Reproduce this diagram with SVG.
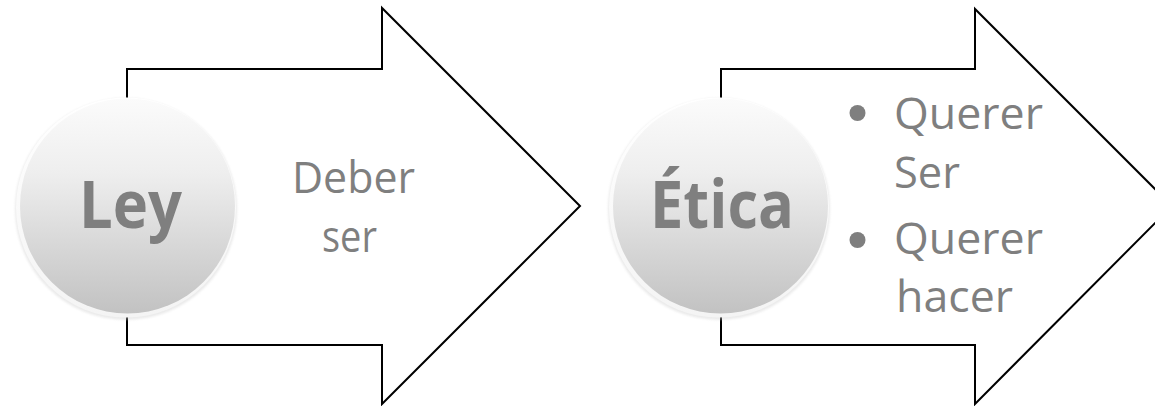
<svg xmlns="http://www.w3.org/2000/svg" width="1155" height="406" viewBox="0 0 1155 406">
  <defs>
    <linearGradient id="ballFill" x1="0" y1="0" x2="0" y2="1">
      <stop offset="0" stop-color="#fbfbfb"/>
      <stop offset="0.35" stop-color="#eeeeee"/>
      <stop offset="1" stop-color="#c2c2c2"/>
    </linearGradient>
    <linearGradient id="rimFill" x1="0" y1="0" x2="0" y2="1">
      <stop offset="0" stop-color="#ffffff"/>
      <stop offset="1" stop-color="#f4f4f4"/>
    </linearGradient>
    <filter id="soft" x="-10%" y="-10%" width="120%" height="120%">
      <feGaussianBlur stdDeviation="1.2"/>
    </filter>
  </defs>
  <style>
    .arrow { fill: #ffffff; stroke: #000000; stroke-width: 2; stroke-linejoin: miter; }
    .label { font-family: "Open Sans", "Noto Sans", "Liberation Sans", sans-serif; fill: #7f7f7f; }
    .title { font-weight: bold; font-size: 67px; }
    .body { font-size: 43px; }
    .bullet { fill: #7f7f7f; }
    .shadow { fill: #cccccc; opacity: 0.4; }
    .rim { fill: url(#rimFill); }
    .ball { fill: url(#ballFill); }
  </style>

  <rect width="1155" height="406" fill="#ffffff"/>

  <g id="arrow-ley">
    <path class="arrow" d="M127,69 H382 V8 L580,206 L382,404 V345 H127 Z"/>
    <text class="label body" x="292" y="193" textLength="123" lengthAdjust="spacingAndGlyphs">Deber</text>
    <text class="label body" x="322" y="252" textLength="55" lengthAdjust="spacingAndGlyphs">ser</text>
  </g>

  <g id="arrow-etica">
    <path class="arrow" d="M721,69 H975 V9 L1172,206 L975,404 V345 H721 Z"/>
    <circle class="bullet" cx="857.5" cy="113" r="8"/>
    <text class="label body" x="894" y="129" textLength="149" lengthAdjust="spacingAndGlyphs">Querer</text>
    <text class="label body" x="894" y="188" textLength="66" lengthAdjust="spacingAndGlyphs">Ser</text>
    <circle class="bullet" cx="857.5" cy="240" r="8"/>
    <text class="label body" x="894" y="254" textLength="149" lengthAdjust="spacingAndGlyphs">Querer</text>
    <text class="label body" x="896" y="312" textLength="117" lengthAdjust="spacingAndGlyphs">hacer</text>
  </g>

  <g id="node-ley">
    <circle class="shadow" cx="126" cy="209" r="111" filter="url(#soft)"/>
    <circle class="rim" cx="126" cy="207.5" r="110"/>
    <circle class="ball" cx="127.5" cy="206" r="107.5"/>
    <text class="label title" x="79" y="228" textLength="103" lengthAdjust="spacingAndGlyphs">Ley</text>
  </g>

  <g id="node-etica">
    <circle class="shadow" cx="719" cy="209" r="111" filter="url(#soft)"/>
    <circle class="rim" cx="719" cy="207.5" r="110"/>
    <circle class="ball" cx="720.5" cy="206" r="107.5"/>
    <text class="label title" x="650" y="228" textLength="144" lengthAdjust="spacingAndGlyphs">Ética</text>
  </g>
</svg>
